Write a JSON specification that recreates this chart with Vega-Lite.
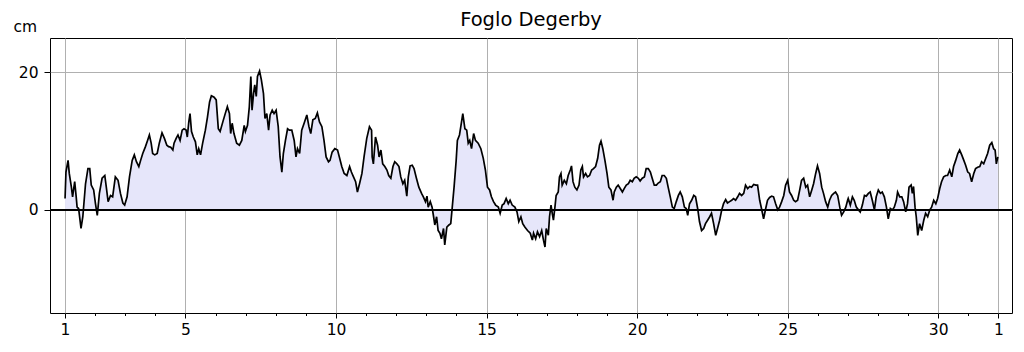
{
  "$schema": "https://vega.github.io/schema/vega-lite/v6.json",
  "width": 962,
  "height": 275,
  "autosize": {"type": "none"},
  "padding": {"left": 50, "top": 38, "right": 12, "bottom": 39},
  "background": "white",
  "title": {"text": "Foglo Degerby", "font": "DejaVu Sans", "fontSize": 19.5, "fontWeight": "normal", "color": "black", "anchor": "middle", "baseline": "alphabetic", "offset": 0, "dy": 26},
  "config": {
    "view": {"stroke": "black", "strokeWidth": 1},
    "axis": {"labelFont": "DejaVu Sans", "labelFontSize": 15.5, "labelColor": "black", "titleFont": "DejaVu Sans", "titleFontSize": 15.5, "titleFontWeight": "normal", "titleColor": "black", "domain": false, "tickColor": "black", "gridColor": "#b0b0b0", "gridWidth": 1, "labelOverlap": false}
  },
  "data": {"values": [
    {"d":1.00,"v":1.65},{"d":1.03,"v":5.5},{"d":1.10,"v":7.2},{"d":1.14,"v":5.3},{"d":1.21,"v":3.3},{"d":1.25,"v":1.9},{"d":1.32,"v":4.1},{"d":1.37,"v":1.9},{"d":1.40,"v":0.4},{"d":1.45,"v":0.2},{"d":1.53,"v":-2.7},{"d":1.59,"v":-1.0},{"d":1.68,"v":3.8},{"d":1.76,"v":6.0},{"d":1.82,"v":6.0},{"d":1.87,"v":3.6},{"d":1.95,"v":2.9},{"d":2.01,"v":0.9},{"d":2.07,"v":-0.8},{"d":2.14,"v":2.4},{"d":2.23,"v":4.6},{"d":2.32,"v":5.0},{"d":2.37,"v":3.3},{"d":2.43,"v":1.2},{"d":2.51,"v":2.1},{"d":2.58,"v":1.9},{"d":2.67,"v":4.8},{"d":2.76,"v":4.3},{"d":2.84,"v":2.4},{"d":2.92,"v":1.0},{"d":2.98,"v":0.7},{"d":3.06,"v":1.9},{"d":3.14,"v":4.8},{"d":3.23,"v":7.2},{"d":3.30,"v":8.0},{"d":3.37,"v":7.0},{"d":3.45,"v":6.3},{"d":3.51,"v":7.2},{"d":3.58,"v":8.2},{"d":3.67,"v":9.2},{"d":3.74,"v":10.1},{"d":3.80,"v":10.9},{"d":3.86,"v":9.7},{"d":3.91,"v":8.2},{"d":3.98,"v":8.0},{"d":4.06,"v":8.2},{"d":4.13,"v":9.7},{"d":4.22,"v":11.2},{"d":4.30,"v":10.4},{"d":4.38,"v":9.4},{"d":4.44,"v":9.2},{"d":4.51,"v":9.1},{"d":4.58,"v":8.7},{"d":4.62,"v":9.7},{"d":4.69,"v":10.4},{"d":4.75,"v":10.9},{"d":4.82,"v":10.1},{"d":4.89,"v":11.6},{"d":4.95,"v":11.8},{"d":5.02,"v":11.6},{"d":5.06,"v":10.6},{"d":5.11,"v":12.8},{"d":5.15,"v":14.0},{"d":5.20,"v":11.4},{"d":5.26,"v":10.6},{"d":5.33,"v":9.9},{"d":5.39,"v":8.0},{"d":5.44,"v":8.9},{"d":5.50,"v":8.0},{"d":5.57,"v":9.7},{"d":5.66,"v":11.6},{"d":5.73,"v":13.5},{"d":5.80,"v":15.7},{"d":5.86,"v":16.6},{"d":5.95,"v":16.4},{"d":6.02,"v":16.0},
    {"d":6.09,"v":11.8},{"d":6.15,"v":11.4},{"d":6.24,"v":12.8},{"d":6.32,"v":14.0},{"d":6.39,"v":15.0},{"d":6.46,"v":14.0},{"d":6.50,"v":11.1},{"d":6.55,"v":12.6},{"d":6.61,"v":11.1},{"d":6.70,"v":9.7},{"d":6.79,"v":9.4},{"d":6.87,"v":10.1},{"d":6.95,"v":12.3},{"d":6.99,"v":11.4},{"d":7.06,"v":12.3},{"d":7.12,"v":15.0},{"d":7.17,"v":19.4},{"d":7.21,"v":14.5},{"d":7.26,"v":16.9},{"d":7.30,"v":18.2},{"d":7.35,"v":16.5},{"d":7.39,"v":19.4},{"d":7.46,"v":20.2},{"d":7.52,"v":18.9},{"d":7.59,"v":16.9},{"d":7.64,"v":13.3},{"d":7.70,"v":14.0},{"d":7.76,"v":11.6},{"d":7.81,"v":13.8},{"d":7.88,"v":14.5},{"d":7.94,"v":14.0},{"d":8.01,"v":14.5},{"d":8.08,"v":12.1},{"d":8.14,"v":7.7},{"d":8.20,"v":5.5},{"d":8.25,"v":8.2},{"d":8.32,"v":10.1},{"d":8.39,"v":11.8},{"d":8.45,"v":11.6},{"d":8.53,"v":11.6},{"d":8.61,"v":10.1},{"d":8.67,"v":7.7},{"d":8.72,"v":8.9},{"d":8.79,"v":8.2},{"d":8.86,"v":11.6},{"d":8.94,"v":12.6},{"d":9.03,"v":13.8},{"d":9.10,"v":12.1},{"d":9.16,"v":11.1},{"d":9.23,"v":13.1},{"d":9.31,"v":13.3},{"d":9.38,"v":14.1},{"d":9.45,"v":12.8},{"d":9.53,"v":12.1},{"d":9.60,"v":10.1},{"d":9.67,"v":7.7},{"d":9.75,"v":7.0},{"d":9.80,"v":7.2},{"d":9.87,"v":8.4},{"d":9.96,"v":8.9},{"d":10.05,"v":8.7},{"d":10.11,"v":7.7},{"d":10.19,"v":6.3},{"d":10.27,"v":5.3},{"d":10.36,"v":5.0},{"d":10.45,"v":6.3},{"d":10.51,"v":5.5},{"d":10.58,"v":4.8},{"d":10.65,"v":4.1},{"d":10.71,"v":2.6},{"d":10.78,"v":3.8},{"d":10.86,"v":5.3},{"d":10.93,"v":7.7},{"d":11.02,"v":10.4},{"d":11.11,"v":12.1},{"d":11.18,"v":11.6},
    {"d":11.20,"v":7.7},{"d":11.24,"v":6.7},{"d":11.31,"v":10.6},{"d":11.38,"v":9.4},{"d":11.43,"v":7.7},{"d":11.49,"v":8.7},{"d":11.55,"v":6.7},{"d":11.62,"v":6.3},{"d":11.69,"v":5.8},{"d":11.75,"v":5.0},{"d":11.82,"v":4.6},{"d":11.89,"v":6.3},{"d":11.95,"v":7.0},{"d":12.02,"v":6.7},{"d":12.09,"v":6.3},{"d":12.15,"v":4.8},{"d":12.22,"v":3.8},{"d":12.28,"v":4.3},{"d":12.35,"v":2.0},{"d":12.40,"v":4.8},{"d":12.46,"v":6.4},{"d":12.53,"v":6.5},{"d":12.59,"v":6.0},{"d":12.67,"v":4.6},{"d":12.75,"v":3.3},{"d":12.84,"v":2.4},{"d":12.90,"v":1.9},{"d":12.97,"v":1.2},{"d":13.02,"v":2.0},{"d":13.06,"v":0.4},{"d":13.13,"v":1.2},{"d":13.19,"v":0.4},{"d":13.24,"v":-1.0},{"d":13.28,"v":-2.2},{"d":13.34,"v":-1.0},{"d":13.39,"v":-3.0},{"d":13.45,"v":-3.4},{"d":13.50,"v":-4.2},{"d":13.57,"v":-2.7},{"d":13.61,"v":-5.1},{"d":13.68,"v":-2.5},{"d":13.75,"v":-2.2},{"d":13.81,"v":-2.0},{"d":13.86,"v":0.4},{"d":13.92,"v":3.3},{"d":13.99,"v":7.2},{"d":14.03,"v":10.1},{"d":14.10,"v":10.9},{"d":14.15,"v":12.3},{"d":14.21,"v":14.0},{"d":14.28,"v":11.8},{"d":14.34,"v":11.6},{"d":14.39,"v":9.7},{"d":14.44,"v":10.1},{"d":14.50,"v":8.9},{"d":14.57,"v":11.1},{"d":14.63,"v":10.1},{"d":14.72,"v":9.7},{"d":14.81,"v":8.9},{"d":14.89,"v":7.5},{"d":14.96,"v":5.8},{"d":15.03,"v":3.3},{"d":15.10,"v":2.9},{"d":15.16,"v":1.9},{"d":15.23,"v":1.2},{"d":15.30,"v":0.7},{"d":15.39,"v":0.4},{"d":15.45,"v":-0.5},{"d":15.52,"v":0.7},{"d":15.58,"v":0.9},{"d":15.65,"v":1.65},{"d":15.72,"v":0.9},{"d":15.78,"v":1.4},{"d":15.85,"v":0.7},{"d":15.94,"v":0.4},{"d":16.01,"v":-0.3},{"d":16.07,"v":-1.7},{"d":16.14,"v":-1.0},{"d":16.20,"v":-2.0},{"d":16.27,"v":-2.5},{"d":16.36,"v":-3.0},{"d":16.45,"v":-3.4},{"d":16.52,"v":-4.4},
    {"d":16.56,"v":-3.4},{"d":16.63,"v":-4.2},{"d":16.69,"v":-3.2},{"d":16.76,"v":-3.9},{"d":16.83,"v":-3.0},{"d":16.89,"v":-4.4},{"d":16.94,"v":-5.4},{"d":16.98,"v":-2.7},{"d":17.05,"v":-3.7},{"d":17.09,"v":-1.0},{"d":17.14,"v":0.7},{"d":17.18,"v":-0.5},{"d":17.22,"v":-1.5},{"d":17.27,"v":0.4},{"d":17.31,"v":2.1},{"d":17.38,"v":2.6},{"d":17.42,"v":4.8},{"d":17.47,"v":5.3},{"d":17.51,"v":3.6},{"d":17.58,"v":4.3},{"d":17.65,"v":3.8},{"d":17.71,"v":5.0},{"d":17.78,"v":5.8},{"d":17.82,"v":6.4},{"d":17.87,"v":4.1},{"d":17.93,"v":3.3},{"d":18.00,"v":2.9},{"d":18.07,"v":3.6},{"d":18.13,"v":5.8},{"d":18.18,"v":6.3},{"d":18.22,"v":4.8},{"d":18.29,"v":5.3},{"d":18.35,"v":4.8},{"d":18.42,"v":5.0},{"d":18.49,"v":5.8},{"d":18.55,"v":6.0},{"d":18.62,"v":6.3},{"d":18.69,"v":7.5},{"d":18.75,"v":9.4},{"d":18.80,"v":10.0},{"d":18.86,"v":8.9},{"d":18.93,"v":7.2},{"d":19.00,"v":5.3},{"d":19.06,"v":3.3},{"d":19.13,"v":2.9},{"d":19.20,"v":1.4},{"d":19.24,"v":2.6},{"d":19.31,"v":3.3},{"d":19.37,"v":3.6},{"d":19.44,"v":3.1},{"d":19.51,"v":2.6},{"d":19.57,"v":3.1},{"d":19.64,"v":3.6},{"d":19.71,"v":3.8},{"d":19.77,"v":4.3},{"d":19.84,"v":4.1},{"d":19.90,"v":4.6},{"d":19.97,"v":4.8},{"d":20.04,"v":4.6},{"d":20.10,"v":4.2},{"d":20.17,"v":4.6},{"d":20.24,"v":4.8},{"d":20.30,"v":6.0},{"d":20.37,"v":6.0},{"d":20.44,"v":5.5},{"d":20.50,"v":4.6},{"d":20.57,"v":3.6},{"d":20.64,"v":3.6},{"d":20.70,"v":3.9},{"d":20.77,"v":4.1},{"d":20.83,"v":5.0},{"d":20.90,"v":5.0},{"d":20.97,"v":4.6},{"d":21.03,"v":3.3},{"d":21.10,"v":1.9},{"d":21.17,"v":0.4},{"d":21.23,"v":0.2},{"d":21.30,"v":1.2},{"d":21.37,"v":2.1},{"d":21.43,"v":2.6},{"d":21.50,"v":1.9},{"d":21.57,"v":0.4},{"d":21.63,"v":0.2},{"d":21.68,"v":-0.8},{"d":21.74,"v":0.9},
    {"d":21.81,"v":1.4},{"d":21.88,"v":2.1},{"d":21.94,"v":1.9},{"d":22.01,"v":0.2},{"d":22.07,"v":-1.7},{"d":22.14,"v":-3.0},{"d":22.21,"v":-2.7},{"d":22.27,"v":-2.0},{"d":22.34,"v":-1.5},{"d":22.41,"v":-1.0},{"d":22.47,"v":-0.5},{"d":22.54,"v":-2.0},{"d":22.61,"v":-3.7},{"d":22.67,"v":-2.7},{"d":22.74,"v":-1.5},{"d":22.81,"v":0.0},{"d":22.87,"v":0.9},{"d":22.94,"v":1.5},{"d":23.00,"v":1.0},{"d":23.07,"v":1.2},{"d":23.14,"v":1.4},{"d":23.20,"v":1.65},{"d":23.27,"v":1.4},{"d":23.34,"v":1.9},{"d":23.40,"v":2.4},{"d":23.47,"v":2.1},{"d":23.54,"v":2.4},{"d":23.60,"v":3.6},{"d":23.67,"v":3.1},{"d":23.74,"v":3.4},{"d":23.80,"v":3.3},{"d":23.87,"v":3.7},{"d":23.94,"v":3.6},{"d":24.00,"v":3.6},{"d":24.07,"v":1.4},{"d":24.13,"v":0.2},{"d":24.20,"v":-1.3},{"d":24.27,"v":0.2},{"d":24.33,"v":1.4},{"d":24.40,"v":1.8},{"d":24.47,"v":2.0},{"d":24.53,"v":1.9},{"d":24.60,"v":0.9},{"d":24.67,"v":0.0},{"d":24.73,"v":0.4},{"d":24.80,"v":1.2},{"d":24.87,"v":2.1},{"d":24.93,"v":3.6},{"d":25.00,"v":4.3},{"d":25.06,"v":2.6},{"d":25.13,"v":2.1},{"d":25.20,"v":1.4},{"d":25.26,"v":1.2},{"d":25.33,"v":1.4},{"d":25.40,"v":2.9},{"d":25.46,"v":4.3},{"d":25.53,"v":4.6},{"d":25.60,"v":3.3},{"d":25.66,"v":3.6},{"d":25.73,"v":1.9},{"d":25.80,"v":2.9},{"d":25.86,"v":3.8},{"d":25.93,"v":5.3},{"d":25.99,"v":6.4},{"d":26.06,"v":5.3},{"d":26.13,"v":3.3},{"d":26.19,"v":2.4},{"d":26.26,"v":1.2},{"d":26.33,"v":0.4},{"d":26.39,"v":1.4},{"d":26.46,"v":2.1},{"d":26.53,"v":2.4},{"d":26.59,"v":2.6},{"d":26.66,"v":2.1},{"d":26.73,"v":0.4},{"d":26.79,"v":-0.8},{"d":26.86,"v":-0.3},{"d":26.93,"v":0.4},{"d":26.99,"v":1.4},
    {"d":27.01,"v":1.65},{"d":27.08,"v":0.7},{"d":27.15,"v":1.9},{"d":27.21,"v":1.4},{"d":27.28,"v":0.4},{"d":27.35,"v":0.0},{"d":27.41,"v":-0.3},{"d":27.48,"v":0.7},{"d":27.55,"v":2.1},{"d":27.61,"v":2.0},{"d":27.68,"v":2.4},{"d":27.74,"v":2.6},{"d":27.81,"v":1.4},{"d":27.88,"v":0.0},{"d":27.94,"v":1.9},{"d":28.01,"v":2.9},{"d":28.08,"v":2.4},{"d":28.14,"v":2.6},{"d":28.21,"v":1.9},{"d":28.28,"v":0.4},{"d":28.34,"v":-1.3},{"d":28.41,"v":0.2},{"d":28.48,"v":0.0},{"d":28.54,"v":0.4},{"d":28.61,"v":1.4},{"d":28.65,"v":2.6},{"d":28.72,"v":1.9},{"d":28.79,"v":1.9},{"d":28.85,"v":1.2},{"d":28.92,"v":-0.3},{"d":28.98,"v":0.9},{"d":29.03,"v":3.3},{"d":29.10,"v":3.6},{"d":29.14,"v":2.4},{"d":29.18,"v":3.4},{"d":29.23,"v":0.4},{"d":29.27,"v":-1.0},{"d":29.32,"v":-3.7},{"d":29.38,"v":-2.0},{"d":29.45,"v":-3.0},{"d":29.52,"v":-1.5},{"d":29.58,"v":-0.5},{"d":29.65,"v":-1.0},{"d":29.72,"v":0.0},{"d":29.78,"v":0.4},{"d":29.85,"v":1.4},{"d":29.92,"v":0.9},{"d":29.98,"v":1.65},{"d":30.05,"v":3.1},{"d":30.11,"v":4.1},{"d":30.18,"v":4.8},{"d":30.25,"v":5.0},{"d":30.31,"v":5.0},{"d":30.38,"v":5.8},{"d":30.45,"v":4.8},{"d":30.51,"v":6.3},{"d":30.58,"v":7.2},{"d":30.65,"v":8.2},{"d":30.71,"v":8.7},{"d":30.78,"v":8.0},{"d":30.85,"v":7.2},{"d":30.91,"v":6.5},{"d":30.98,"v":5.5},{"d":31.04,"v":5.3},{"d":31.11,"v":4.1},{"d":31.18,"v":5.3},{"d":31.24,"v":6.0},{"d":31.31,"v":6.2},{"d":31.38,"v":6.3},{"d":31.44,"v":7.0},{"d":31.51,"v":6.7},{"d":31.58,"v":7.5},{"d":31.64,"v":8.2},{"d":31.71,"v":9.4},{"d":31.78,"v":9.8},{"d":31.84,"v":8.9},{"d":31.89,"v":8.7},{"d":31.93,"v":6.7},{"d":31.98,"v":7.7}
  ]},
  "layer": [
    {
      "mark": {"type": "area", "color": "#e6e6fa", "opacity": 1},
      "encoding": {
        "x": {"field": "d", "type": "quantitative", "scale": {"domain": [0.5, 32.45], "nice": false, "zero": false},
          "axis": {"title": null, "values": [1,2,3,4,5,6,7,8,9,10,11,12,13,14,15,16,17,18,19,20,21,22,23,24,25,26,27,28,29,30,31,32],
            "tickCount": 200,
            "labelOverlap": false, "labelFlush": false, "labelPadding": 4,
            "labelExpr": "datum.value == 32 ? '1' : (indexof([1,5,10,15,20,25,30], datum.value) >= 0 ? '' + datum.value : '')",
            "grid": true,
            "gridOpacity": {"condition": {"test": "indexof([1,5,10,15,20,25,30,32], datum.value) >= 0", "value": 1}, "value": 0},
            "tickSize": {"condition": {"test": "indexof([1,5,10,15,20,25,30,32], datum.value) >= 0", "value": 5}, "value": 2.5}}},
        "y": {"field": "v", "type": "quantitative", "scale": {"domain": [-15, 25], "nice": false},
          "axis": {"values": [0, 20], "grid": true, "tickSize": 6, "labelPadding": 6,
            "title": "cm", "titleAngle": 0, "titleAlign": "left", "titleBaseline": "alphabetic", "titleX": -37, "titleY": -7}},
        "y2": {"datum": 0}
      }
    },
    {
      "mark": {"type": "rule", "color": "black", "strokeWidth": 1},
      "encoding": {"y": {"datum": 0}}
    },
    {
      "mark": {"type": "line", "color": "black", "strokeWidth": 1.7},
      "encoding": {
        "x": {"field": "d", "type": "quantitative"},
        "y": {"field": "v", "type": "quantitative"}
      }
    }
  ]
}
